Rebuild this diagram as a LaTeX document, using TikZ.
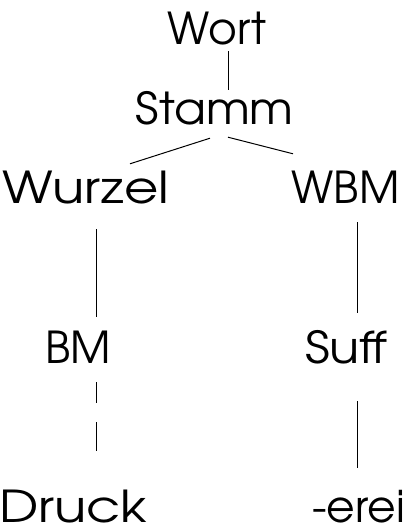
\documentclass[tikz,border=0pt]{standalone}
\usepackage{fontspec}
\usepackage{graphicx}
\setmainfont{texgyreadventor-regular.otf}
% widen a word horizontally by a factor
\newcommand\widenword[2]{\scalebox{#1}[1]{#2}}
\begin{document}
\begin{tikzpicture}[x=1pt,y=1pt,
  word/.style={anchor=base,inner sep=0pt,text height=32pt,text depth=0pt,font=\fontsize{44}{48}\selectfont},
  link/.style={line width=1pt}]
\useasboundingbox (0,0) rectangle (419,-529);
\node[word] (wort)   at (217,-45)    {Wort};
\node[word] (stamm)  at (214.5,-125) {\widenword{1.06}{Stamm}};
\node[word] (wurzel) at (86,-204)    {\widenword{1.2}{Wurzel}};
\node[word] (wbm)    at (345.5,-204) {WBM};
\node[word] (bm)     at (78,-363)    {BM};
\node[word] (suff)   at (346.5,-363) {\widenword{1.12}{Suff}};
\node[word] (druck)  at (73.5,-522)  {\widenword{1.2}{Druck}};
\node[word] (erei)   at (358.5,-522) {-erei};
\draw[link] ([xshift=11pt,yshift=-6pt]wort.south) -- ([xshift=13.5pt,yshift=3pt]stamm.north);
\draw[link] ([xshift=-4.5pt,yshift=-13pt]stamm.south) -- ([xshift=44pt,yshift=8pt]wurzel.north);
\draw[link] ([xshift=13.5pt,yshift=-12pt]stamm.south) -- ([xshift=-52.5pt,yshift=18pt]wbm.north);
\draw[link] ([xshift=10pt,yshift=-25pt]wurzel.south) -- ([xshift=18pt,yshift=14pt]bm.north);
\draw[link] ([xshift=11.5pt,yshift=-18pt]wbm.south) -- ([xshift=10.5pt,yshift=18pt]suff.north);
\draw[link,dash pattern=on 21pt off 19pt on 29pt off 10pt] ([xshift=18pt,yshift=-19pt]bm.south) -- ([xshift=22.5pt,yshift=39pt]druck.north);
\draw[link] ([xshift=10.5pt,yshift=-38pt]suff.south) -- ([xshift=-1.5pt,yshift=22pt]erei.north);
\end{tikzpicture}
\end{document}
